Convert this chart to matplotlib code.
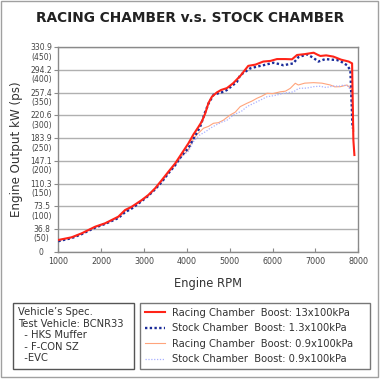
import matplotlib
matplotlib.use("Agg")
import matplotlib.pyplot as plt
import matplotlib.transforms as mtransforms
from matplotlib.patches import Rectangle

# (rpm, kW)
racing_13_rpm = [1000, 1310, 1547, 1860, 2091, 2400, 2558, 2715, 2948, 3100, 3259, 3415,
                 3570, 3727, 3883, 4037, 4154, 4260, 4350, 4428, 4505, 4584, 4700, 4800,
                 4935, 5082, 5250, 5432, 5600, 5783, 5950, 6103, 6300, 6453, 6570, 6750,
                 6958, 7050, 7115, 7250, 7418, 7600, 7776, 7855, 7885, 7909]
racing_13_kw = [19, 23.3, 29.8, 40.5, 46, 56.7, 67.5, 72.9, 83.7, 91.8, 102.7, 116,
                129.6, 143, 159.4, 175.6, 190, 201, 211, 224, 241, 251, 258, 262,
                265, 273, 285, 301, 303, 308, 309, 312, 312, 311.6, 318.6, 320,
                322.3, 319, 317, 318, 316, 311, 308, 305, 181, 156.6]

stock_13_rpm = [1000, 1310, 1547, 1860, 2091, 2400, 2558, 2715, 2948, 3100, 3259, 3415,
                3570, 3727, 3883, 4037, 4154, 4311, 4420, 4505, 4621, 4750, 4855, 4935,
                5168, 5245, 5479, 5650, 5783, 6016, 6150, 6250, 6483, 6600, 6804, 6950,
                7068, 7231, 7380, 7505, 7620, 7738, 7815, 7845, 7865]
stock_13_kw = [17, 22, 28.5, 39, 45, 54.5, 64, 70, 82, 90.5, 101, 113,
               127, 140, 156, 168, 183, 202.5, 225, 240, 254, 257, 259, 262,
               275, 286, 297, 300, 302, 306, 304, 302, 305, 315, 319.7, 314,
               308, 312, 311, 310.5, 307, 302, 294, 240, 200]

racing_09_rpm = [1000, 1310, 1547, 1860, 2091, 2400, 2558, 2715, 2948, 3100, 3259, 3415,
                 3570, 3727, 3883, 4037, 4154, 4271, 4388, 4505, 4621, 4738, 4850, 5012,
                 5128, 5245, 5402, 5519, 5635, 5750, 5869, 6000, 6180, 6300, 6413, 6530,
                 6600, 6750, 6958, 7150, 7348, 7450, 7582, 7738, 7855, 7880, 7895]
racing_09_kw = [18.5, 23, 29.5, 40, 45.5, 56, 66, 72, 83, 91, 102, 114,
                128, 141, 155, 165, 183.7, 192, 200, 203, 208, 209, 213, 221.5,
                226, 235, 240.4, 244, 248.5, 252, 256.6, 256, 259, 260, 264.6, 272.8,
                270, 273, 273.8, 273, 270, 267, 267.3, 270, 262, 220, 195]

stock_09_rpm = [1000, 1310, 1547, 1860, 2091, 2400, 2558, 2715, 2948, 3100, 3259, 3415,
                3570, 3727, 3883, 4037, 4150, 4300, 4450, 4544, 4700, 4817, 4935, 5100,
                5284, 5402, 5550, 5700, 5869, 6050, 6257, 6400, 6491, 6608, 6800, 6958,
                7100, 7250, 7426, 7550, 7660, 7760, 7815, 7850, 7880]
stock_09_kw = [18, 22.5, 29, 39.5, 45, 55, 65, 71, 82.5, 90.5, 101, 113,
               127, 140, 154, 163, 178, 189, 195, 200, 206, 210, 213, 222,
               228, 235, 240, 245, 251, 253, 256.6, 258, 259, 264.6, 265, 267.3,
               268, 266, 268.4, 268, 270, 268, 262, 230, 190]

series_labels = [
    "Racing Chamber  Boost: 13x100kPa",
    "Stock Chamber  Boost: 1.3x100kPa",
    "Racing Chamber  Boost: 0.9x100kPa",
    "Stock Chamber  Boost: 0.9x100kPa",
]

y_ticks = [0, 36.8, 73.5, 110.3, 147.1, 183.9, 220.6, 257.4, 294.2, 330.9]
y_ps = [0, 50, 100, 150, 200, 250, 300, 350, 400, 450]
x_ticks = [1000, 2000, 3000, 4000, 5000, 6000, 7000, 8000]

spec_lines = ["Vehicle\u2019s Spec.", "Test Vehicle: BCNR33", "  - HKS Muffer",
              "  - F-CON SZ", "  -EVC"]

W = 380.0
fig = plt.figure(figsize=(3.8, 3.8), dpi=100)
fig.patch.set_facecolor("white")
# outer frame
fig.patches.append(Rectangle((1 / W, 3 / W), 377 / W, 376 / W, transform=fig.transFigure,
                             fill=False, edgecolor="#a0a0a0", lw=1))

ax = fig.add_axes([58.3 / W, 1 - 251.7 / W, 300 / W, 204.3 / W])

l1, = ax.plot(racing_09_rpm, racing_09_kw, color="#ffa47c", lw=0.8, zorder=3)
l2, = ax.plot(stock_09_rpm, stock_09_kw, color="#a8b0ff", lw=0.9, ls=(0, (1, 1.3)), zorder=3)
l3, = ax.plot(stock_13_rpm, stock_13_kw, color="#1b2c9a", lw=1.7, ls=(0, (1, 1)), zorder=4)
l4, = ax.plot(racing_13_rpm, racing_13_kw, color="#ff2418", lw=1.5, zorder=5)

ax.set_xlim(1000, 8000)
ax.set_ylim(0, 330.9)
ax.set_xticks(x_ticks)
ax.set_yticks(y_ticks)
ax.set_xticklabels([str(v) for v in x_ticks])
ylabels = ["0"] + [f"{k:.1f}\n({p})" for k, p in zip(y_ticks[1:], y_ps[1:])]
ax.set_yticklabels(ylabels, linespacing=1.05)
ax.yaxis.grid(True, color="#b0b0b0", lw=1)
ax.set_axisbelow(True)
for sp in ax.spines.values():
    sp.set_color("#8a8a8a")
    sp.set_linewidth(1)
ax.tick_params(axis="x", direction="in", length=3, color="#8a8a8a", labelsize=5.8,
               labelcolor="#444444", pad=4)
ax.tick_params(axis="y", direction="out", length=3, color="#8a8a8a", labelsize=5.5,
               labelcolor="#444444", pad=2)

# two-line labels: kW line sits on the gridline, ps value below it
shift = mtransforms.ScaledTranslation(-10 / 100, 4 / 100, fig.dpi_scale_trans)
for lab in ax.get_yticklabels():
    lab.set_horizontalalignment("center")
    if lab.get_text() != "0":
        lab.set_verticalalignment("top")
        lab.set_transform(lab.get_transform() + shift)
    else:
        lab.set_transform(lab.get_transform()
                          + mtransforms.ScaledTranslation(-10 / 100, 0, fig.dpi_scale_trans))

ax.set_xlabel("Engine RPM", fontsize=8.3, color="#333333", labelpad=8)
ax.set_ylabel("Engine Output kW (ps)", fontsize=8.6, color="#333333", labelpad=5)

fig.text(0.5, 1 - 18 / W, "RACING CHAMBER v.s. STOCK CHAMBER", ha="center", va="center",
         fontsize=9.9, fontweight="bold", color="#222222")

# vehicle spec box
fig.patches.append(Rectangle((12.7 / W, 1 - 368.7 / W), 121.3 / W, 66 / W,
                             transform=fig.transFigure, fill=False, edgecolor="#555555", lw=1))
fig.text(18.3 / W, 1 - 307 / W, "\n".join(spec_lines), ha="left", va="top",
         fontsize=7.2, color="#333333", linespacing=1.2)

# series legend box
leg = fig.legend([l4, l3, l1, l2], series_labels, loc="upper left",
                 bbox_to_anchor=(140.3 / W, 1 - 368.7 / W, 229.7 / W, 66 / W),
                 bbox_transform=fig.transFigure, mode="expand", borderaxespad=0,
                 fontsize=7.2, frameon=True, fancybox=False, handlelength=2.0,
                 handletextpad=0.7, labelspacing=0.55, borderpad=0.5, labelcolor="#333333")
leg.get_frame().set_edgecolor("#555555")
leg.get_frame().set_linewidth(1)

fig.savefig("out.png", dpi=100)
